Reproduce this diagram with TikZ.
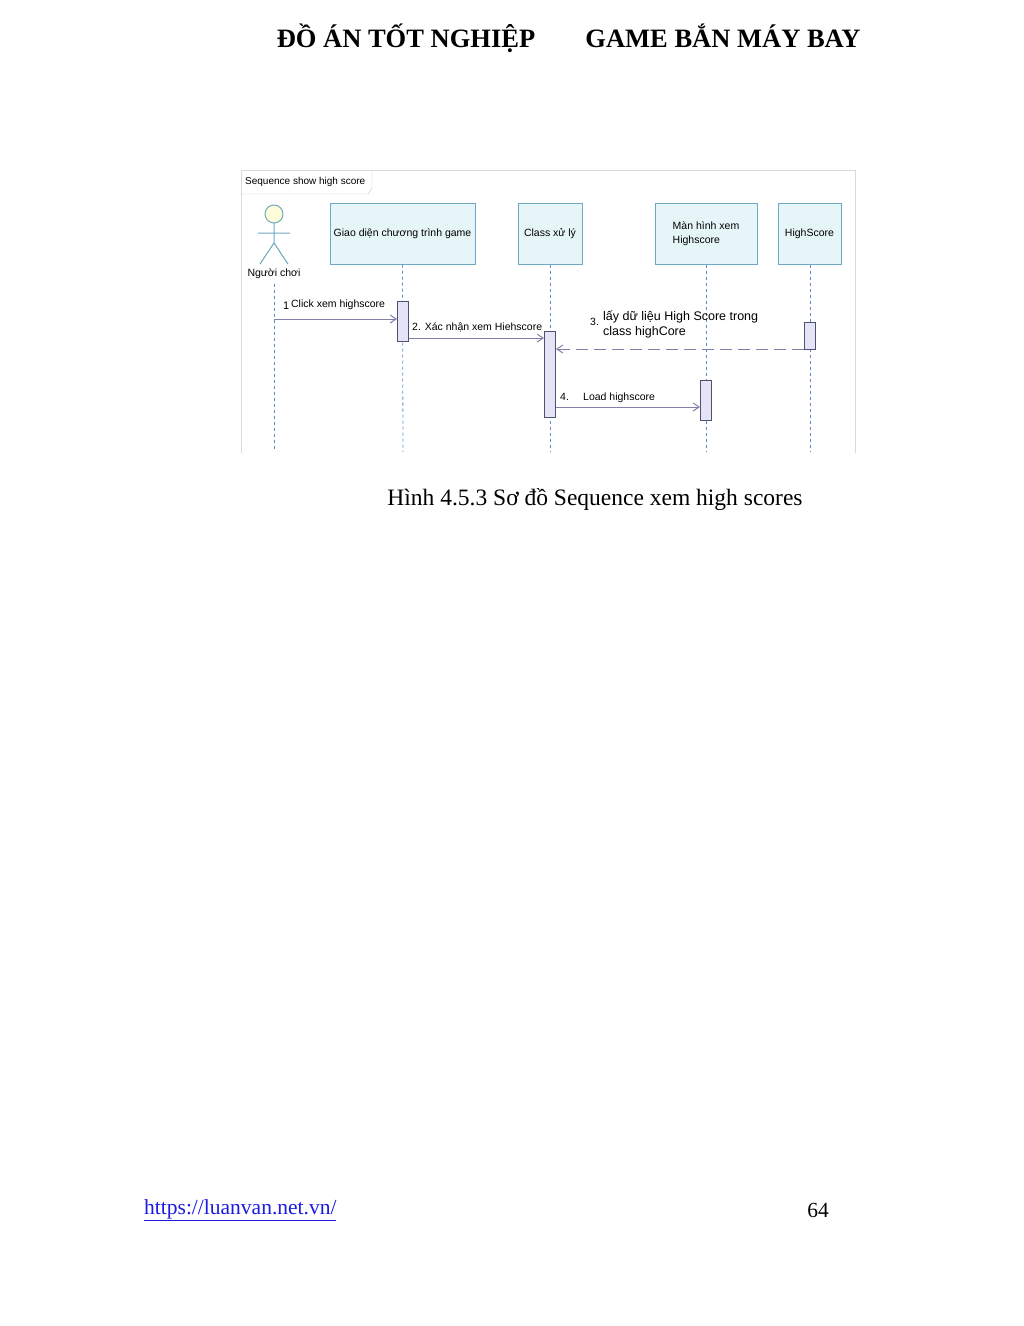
\documentclass[tikz,border=0pt]{standalone}
\usepackage{fontspec}
\setmainfont{Liberation Serif}
\newfontfamily\dfont{Liberation Sans}
\usetikzlibrary{arrows.meta}
\definecolor{boxfill}{HTML}{E6F6F8}
\definecolor{boxdraw}{HTML}{6FA9C0}
\definecolor{actfill}{HTML}{E4E4F6}
\definecolor{actdraw}{HTML}{505070}
\definecolor{life}{HTML}{5A8FC8}
\definecolor{msg}{HTML}{8080A8}
\definecolor{linkc}{HTML}{1A1AE0}
\tikzset{
 obj/.style={draw=boxdraw,fill=boxfill,line width=1pt,inner sep=0pt,font=\dfont\fontsize{10.5}{14}\selectfont,align=left},
 lifel/.style={draw=life,dash pattern=on 3pt off 3pt,line width=0.8pt},
 actbox/.style={draw=actdraw,fill=actfill,line width=1pt,minimum width=11pt,inner sep=0pt},
 msgl/.style={draw=msg,line width=1pt,-{Straight Barb[length=6pt,width=8pt]}},
 lbl/.style={font=\dfont\fontsize{10.5}{12}\selectfont,inner sep=0pt,anchor=west,align=left},
}
\begin{document}
\begin{tikzpicture}[x=1pt,y=-1pt]
\useasboundingbox (0,0) rectangle (1024,1326);
\node[font=\bfseries\fontsize{26.5}{28}\selectfont,anchor=base] (h1) at (406,47) {ĐỒ ÁN TỐT NGHIỆP};
\node[font=\bfseries\fontsize{26.5}{28}\selectfont,anchor=base] (h2) at (723,47) {GAME BẮN MÁY BAY};
% frame
\draw[draw=black!15,line width=1pt] (241,453) -- (241,170) -- (855,170) -- (855,453);
\draw[draw=black!25] (241,194) -- (368,194) -- (372,188) -- (372,170);
\node[lbl,font=\dfont\fontsize{10}{11}\selectfont] (title) at (245,182) {Sequence show high score};
% actor
\draw[draw=boxdraw,fill=yellow!15,line width=1pt] (274,214) circle (9);
\coordinate (ac) at (274,223);
\draw[draw=boxdraw,line width=1pt] (274,223) -- (274,243) (258,233) -- (290,233) (274,243) -- (260,264) (274,243) -- (288,264);
\node[font=\dfont\fontsize{10.5}{11}\selectfont] (actor) at (274,274) {Người chơi};
% objects
\node[obj,minimum width=145pt,minimum height=61pt] (o1) at (402.5,233.5) {Giao diện chương trình game};
\node[obj,minimum width=64pt,minimum height=61pt] (o2) at (550,233.5) {Class xử lý};
\node[obj,minimum width=102pt,minimum height=61pt] (o3) at (706,233.5) {Màn hình xem\\Highscore};
\node[obj,minimum width=63pt,minimum height=61pt] (o4) at (809.5,233.5) {HighScore};
% lifelines
\coordinate (e0) at (274,452); \coordinate (e1) at (403,452); \coordinate (e2) at (550,452);
\coordinate (e3) at (706,452); \coordinate (e4) at (810,452);
\draw[lifel] (274,284) -- (e0);
\draw[lifel] (o1.south) -- (e1);
\draw[lifel] (o2.south) -- (e2);
\draw[lifel] (o3.south) -- (e3);
\draw[lifel] (o4.south -| e4) -- (e4);
% activations
\node[actbox,minimum height=40pt] (a1) at (403,321) {};
\node[actbox,minimum height=86pt] (a2) at (550,374) {};
\node[actbox,minimum height=40pt] (a3) at (706,400) {};
\node[actbox,minimum height=27pt] (a4) at (810,335.5) {};
% messages
\coordinate (m1s) at (274,319);
\draw[msgl] (m1s) -- (a1.west |- m1s);
\node[lbl] (l1) at (283,305) {\fontsize{11}{12}\selectfont1\,\raisebox{2pt}{\fontsize{10.5}{12}\selectfont Click xem highscore}};
\coordinate (m2s) at (409,338);
\draw[msgl] (a1.east |- m2s) -- (a2.west |- m2s);
\node[lbl] (l2) at (412,327) {2. Xác nhận xem Hiehscore};
\coordinate (m3s) at (804,349);
\draw[msgl,dash pattern=on 12pt off 6pt] (a4.west |- m3s) -- (a2.east |- m3s);
\node[lbl] (l3n) at (590,322) {3.};
\node[lbl,font=\dfont\fontsize{12.5}{15}\selectfont] (l3) at (603,324) {lấy dữ liệu High Score trong\\class highCore};
\coordinate (m4s) at (556,407);
\draw[msgl] (a2.east |- m4s) -- (a3.west |- m4s);
\node[lbl] (l4n) at (560,397) {4.};
\node[lbl] (l4) at (583,398) {Load highscore};
% caption & footer
\node[font=\fontsize{23.5}{26}\selectfont] (cap) at (595,500) {Hình 4.5.3 Sơ đồ Sequence xem high scores};
\node[font=\fontsize{21.5}{24}\selectfont,text=linkc,anchor=west,inner sep=0pt] (link) at (144,1210) {\underline{https://luanvan.net.vn/}};
\node[font=\fontsize{21.5}{24}\selectfont,anchor=east,inner sep=0pt] (pg) at (829,1210) {64};
\end{tikzpicture}
\end{document}
